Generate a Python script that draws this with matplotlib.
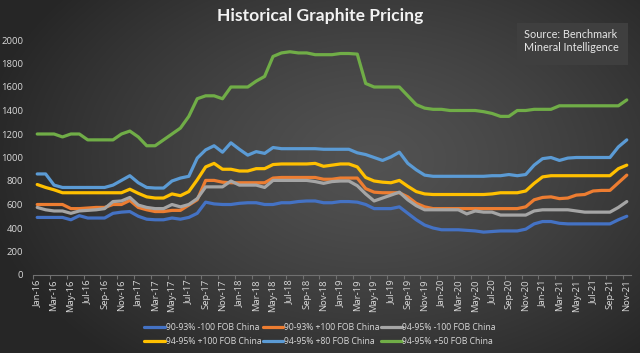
import numpy as np
import pandas as pd
import matplotlib
matplotlib.use("Agg")
import matplotlib.pyplot as plt

# ---------------- data ----------------
months = pd.date_range("2016-01-01", "2021-11-01", freq="MS").strftime("%b-%y").tolist()

s_90_93_m100 = [490, 490, 490, 490, 470, 505, 485, 485, 485, 525, 535, 540,
                500, 475, 470, 470, 485, 475, 490, 525, 620, 605, 600, 600,
                610, 615, 615, 600, 600, 615, 615, 625, 630, 630, 615, 615,
                625, 625, 620, 600, 565, 565, 565, 580, 525, 470, 425, 400,
                385, 385, 385, 380, 375, 365, 370, 375, 375, 375, 390, 435,
                455, 455, 440, 435, 435, 435, 435, 435, 435, 470, 500]
s_90_93_p100 = [600, 600, 600, 600, 565, 565, 570, 575, 575, 600, 600, 635,
                575, 555, 540, 540, 550, 550, 595, 640, 805, 805, 790, 785,
                785, 785, 785, 785, 825, 830, 830, 830, 830, 830, 815, 815,
                825, 825, 825, 735, 705, 700, 700, 700, 665, 610, 580, 565,
                565, 565, 565, 565, 565, 565, 565, 565, 565, 565, 580, 640,
                660, 665, 650, 655, 680, 685, 715, 720, 720, 785, 850]
s_94_95_m100 = [575, 555, 545, 545, 525, 545, 550, 555, 565, 625, 630, 660,
                595, 575, 565, 565, 600, 580, 600, 650, 750, 750, 750, 800,
                765, 765, 765, 745, 805, 805, 805, 805, 805, 795, 780, 795,
                800, 800, 760, 690, 630, 655, 680, 705, 640, 590, 555, 555,
                555, 555, 555, 520, 545, 535, 535, 510, 510, 510, 510, 545,
                555, 555, 555, 555, 545, 535, 535, 535, 535, 575, 625]
s_94_95_p100 = [770, 745, 725, 700, 700, 700, 700, 700, 700, 700, 700, 730,
                695, 665, 655, 655, 690, 675, 710, 810, 920, 950, 900, 900,
                885, 885, 905, 905, 940, 945, 945, 945, 945, 950, 925, 935,
                945, 945, 920, 830, 800, 790, 785, 805, 755, 710, 690, 685,
                685, 685, 685, 685, 685, 685, 690, 700, 700, 700, 715, 780,
                835, 845, 845, 845, 845, 845, 845, 845, 845, 905, 935]
s_94_95_p80 = [860, 860, 765, 745, 745, 745, 745, 745, 745, 765, 805, 845,
               785, 745, 740, 740, 800, 825, 840, 995, 1065, 1100, 1045, 1125,
               1070, 1020, 1050, 1035, 1085, 1075, 1075, 1075, 1075, 1075, 1070, 1070,
               1070, 1070, 1040, 1025, 1000, 975, 1005, 1045, 950, 895, 850, 840,
               840, 840, 840, 840, 840, 840, 845, 845, 855, 845, 855, 935,
               990, 1000, 975, 995, 1000, 1000, 1000, 1000, 1000, 1090, 1150]
s_94_95_p50 = [1200, 1200, 1200, 1175, 1200, 1200, 1150, 1150, 1150, 1150, 1200, 1225,
               1175, 1100, 1100, 1150, 1200, 1250, 1350, 1500, 1525, 1525, 1500, 1600,
               1600, 1600, 1650, 1690, 1860, 1890, 1900, 1890, 1890, 1875, 1875, 1875,
               1885, 1885, 1880, 1630, 1600, 1600, 1600, 1600, 1525, 1450, 1420, 1410,
               1410, 1400, 1400, 1400, 1400, 1390, 1375, 1350, 1350, 1400, 1400, 1410,
               1410, 1410, 1440, 1440, 1440, 1440, 1440, 1440, 1440, 1440, 1490]

series_names = ["90-93% -100 FOB China", "90-93% +100 FOB China", "94-95% -100 FOB China",
                "94-95% +100 FOB China", "94-95% +80 FOB China", "94-95% +50 FOB China"]
series_values = [s_90_93_m100, s_90_93_p100, s_94_95_m100, s_94_95_p100, s_94_95_p80, s_94_95_p50]
series_colors = ["#4472C4", "#ED7D31", "#A5A5A5", "#FFC000", "#5B9BD5", "#70AD47"]
yticks = [0, 200, 400, 600, 800, 1000, 1200, 1400, 1600, 1800, 2000]

# ---------------- figure ----------------
W, H = 640, 353
fig = plt.figure(figsize=(W / 100, H / 100), dpi=100)

# radial gradient background
bg = fig.add_axes([0, 0, 1, 1], zorder=-10)
yy, xx = np.mgrid[0:H, 0:W]
cx, cy = 0.58 * W, 0.45 * H
d = np.sqrt(((xx - cx) / (0.62 * W)) ** 2 + ((yy - cy) / (0.75 * H)) ** 2)
d = np.clip(d, 0, 1)
inner, outer = 0x52, 0x26
g = (inner + (outer - inner) * d ** 1.3) / 255.0
img = np.dstack([g, g, g])
bg.imshow(img, aspect="auto", extent=[0, 1, 0, 1], origin="upper")
bg.axis("off")

left, right = 33 / W, 631 / W
bottom, top = 1 - 275 / H, 1 - 40 / H
ax = fig.add_axes([left, bottom, right - left, top - bottom])
ax.set_facecolor("none")

x = np.arange(len(months))
handles = []
for name, vals, col in zip(series_names, series_values, series_colors):
    (ln,) = ax.plot(x, vals, color=col, lw=2.3, solid_joinstyle="round",
                    solid_capstyle="round", label=name)
    handles.append(ln)

ax.set_xlim(-0.5, len(months) - 0.5)
ax.set_ylim(0, 2000)
ax.set_yticks(yticks)
ax.set_yticklabels([str(v) for v in yticks])
ax.set_xticks(x[::2])
ax.set_xticklabels(months[::2], rotation=90)
ax.set_xticks(np.arange(-0.5, len(months), 2), minor=True)

for s in ["top", "right", "left"]:
    ax.spines[s].set_visible(False)
ax.spines["bottom"].set_color("#707070")
ax.spines["bottom"].set_linewidth(0.8)
ax.tick_params(axis="y", length=0, pad=7, labelsize=6.8, labelcolor="#d9d9d9")
ax.tick_params(axis="x", which="major", length=0, pad=3, labelsize=6.8, labelcolor="#d9d9d9")
ax.tick_params(axis="x", which="minor", length=3, color="#707070", width=0.8)
for lbl in ax.get_xticklabels() + ax.get_yticklabels():
    lbl.set_family("Open Sans")

# title
fig.text(320 / W, 1 - 16 / H, "Historical Graphite Pricing", ha="center", va="center",
         fontsize=12.6, fontweight="bold", color="#f2f2f2", family="Lato")

# source box
fig.patches.append(plt.Rectangle((517 / W, 1 - 65 / H), 111 / W, 42 / H,
                                 transform=fig.transFigure, facecolor="#404040",
                                 edgecolor="none", alpha=0.95, zorder=1))
fig.text(524 / W, 1 - 34 / H, "Source: Benchmark", ha="left", va="center",
         fontsize=7.8, color="#e6e6e6", family="Lato")
fig.text(524 / W, 1 - 47.5 / H, "Mineral Intelligence", ha="left", va="center",
         fontsize=7.8, color="#e6e6e6", family="Lato")

# legend (row-major like Excel)
order = [0, 3, 1, 4, 2, 5]
leg = fig.legend([handles[i] for i in order], [series_names[i] for i in order],
                 loc="center", bbox_to_anchor=(320 / W, 1 - 334.5 / H), ncol=3,
                 frameon=False, fontsize=6.2, handlelength=2.4, handletextpad=0.1,
                 columnspacing=0.15, labelspacing=0.6, borderpad=0)
for t in leg.get_texts():
    t.set_color("#d9d9d9")
    t.set_family("Open Sans")

fig.savefig("out.png", dpi=100)
